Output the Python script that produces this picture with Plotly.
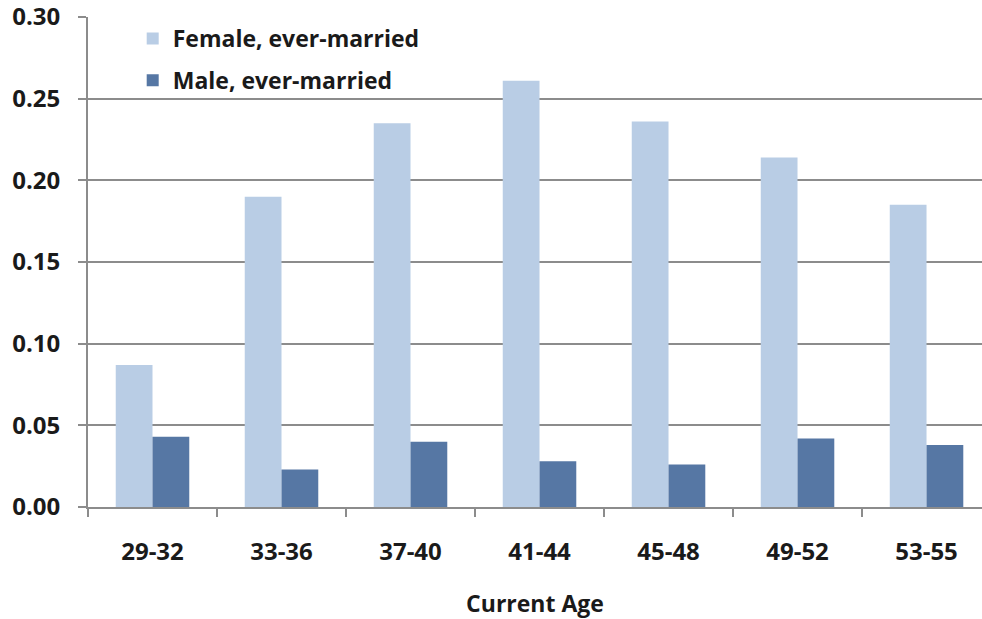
import plotly.graph_objects as go

categories = ["29-32", "33-36", "37-40", "41-44", "45-48", "49-52", "53-55"]
female = [0.087, 0.190, 0.235, 0.261, 0.236, 0.214, 0.185]
male = [0.043, 0.023, 0.040, 0.028, 0.026, 0.042, 0.038]
y_ticks = [0.0, 0.05, 0.10, 0.15, 0.20, 0.25, 0.30]
y_ticktext = ["0.00", "0.05", "0.10", "0.15", "0.20", "0.25", "0.30"]

FONT = "Open Sans"
TXT = "#1a1a1a"
GRID = "#8c8c8c"

fig = go.Figure()
fig.add_trace(go.Bar(x=categories, y=female, name="Female, ever-married",
                     marker=dict(color="#B9CDE5", line=dict(width=0)),
                     legendgroup="f"))
fig.add_trace(go.Bar(x=categories, y=male, name="Male, ever-married",
                     marker=dict(color="#5677A4", line=dict(width=0)),
                     legendgroup="m"))

fig.update_layout(
    width=982, height=619,
    margin=dict(l=88, r=0, t=17, b=112),
    paper_bgcolor="white", plot_bgcolor="white",
    barmode="group", bargap=0.43, bargroupgap=0,
    font=dict(family=FONT, color=TXT, size=20),
    legend=dict(x=0.05, y=1.0, xanchor="left", yanchor="top",
                font=dict(family=FONT, size=23, color=TXT, weight="bold"),
                bgcolor="rgba(0,0,0,0)", traceorder="grouped",
                tracegroupgap=9, itemwidth=30),
    xaxis=dict(
        type="category", range=[-0.5, 6.43],
        showline=True, linecolor=GRID, linewidth=2,
        ticks="outside", tickson="boundaries", ticklen=8, tickwidth=2, tickcolor=GRID,
        tickfont=dict(family=FONT, size=24, color=TXT, weight="bold"),
        ticklabelstandoff=22,
        title=dict(text="Current Age", standoff=31,
                   font=dict(family=FONT, size=23, color=TXT, weight="bold")),
        showgrid=False,
    ),
    yaxis=dict(
        range=[0, 0.30], tickvals=y_ticks, ticktext=y_ticktext,
        showline=True, linecolor=GRID, linewidth=2,
        ticks="outside", ticklen=8, tickwidth=2, tickcolor=GRID,
        tickfont=dict(family=FONT, size=24, color=TXT, weight="bold"),
        ticklabelstandoff=13, ticklabeloverflow="allow",
        showgrid=True, gridcolor=GRID, gridwidth=2,
        zeroline=False,
    ),
)

fig.write_html("out.html",
               config={"displayModeBar": False},
               post_script="document.body.style.margin='0';document.body.style.overflow='hidden';")
